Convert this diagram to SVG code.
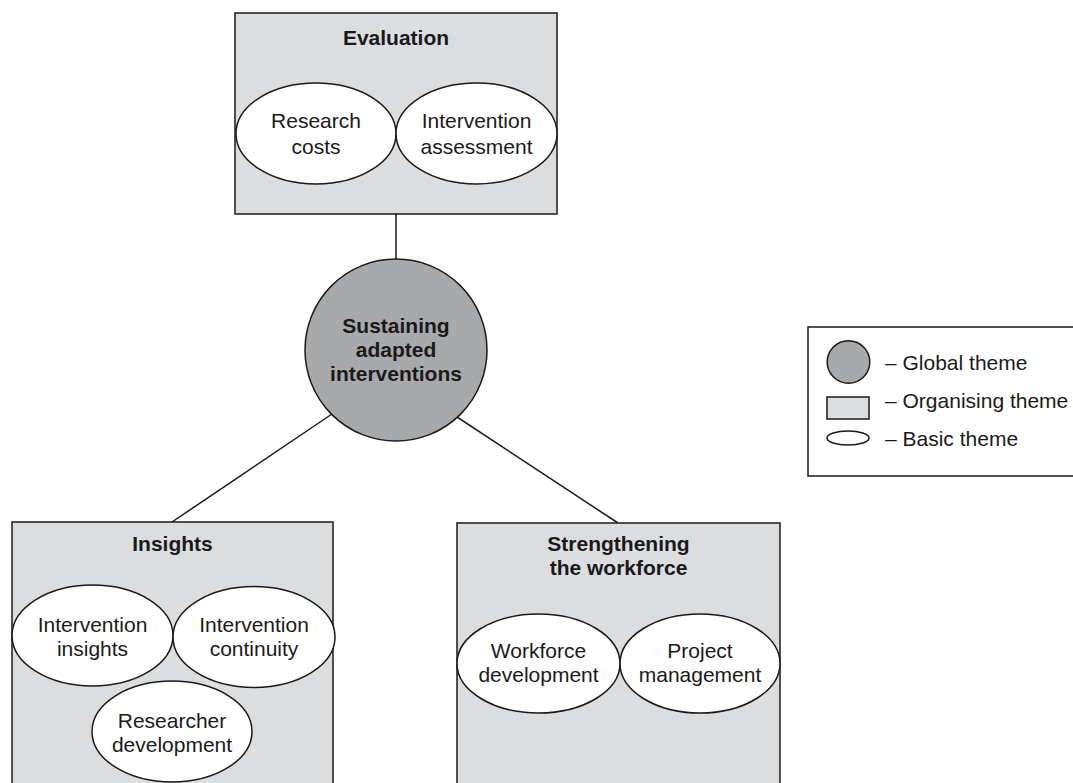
<svg xmlns="http://www.w3.org/2000/svg" width="1073" height="783" viewBox="0 0 1073 783">
<style>
.box{fill:#dcdddf;stroke:#1a1a1a;stroke-width:1.5}
.ell{fill:#ffffff;stroke:#1a1a1a;stroke-width:1.5}
.glob{fill:#a8a9ab;stroke:#1a1a1a;stroke-width:1.5}
.conn{stroke:#1a1a1a;stroke-width:1.5;fill:none}
text{font-family:"Liberation Sans",Arial,sans-serif;font-size:21px;fill:#1a1a1a}
.t{text-anchor:middle}
.b{font-weight:bold}
</style>
<rect width="1073" height="783" fill="#ffffff"/>
<g id="connectors">
<line class="conn" x1="396" y1="214" x2="396" y2="259"/>
<line class="conn" x1="332" y1="414" x2="172" y2="522"/>
<line class="conn" x1="457" y1="417" x2="618" y2="523"/>
</g>
<g id="evaluation">
<rect class="box" x="235" y="13" width="322" height="201"/>
<text class="t b" x="396" y="45">Evaluation</text>
</g>
<g id="research-costs">
<ellipse class="ell" cx="316" cy="133.5" rx="80" ry="50.5"/>
<text class="t" x="316" y="128">Research</text>
<text class="t" x="316" y="154">costs</text>
</g>
<g id="intervention-assessment">
<ellipse class="ell" cx="476.5" cy="133.5" rx="80.5" ry="50.5"/>
<text class="t" x="476.5" y="128">Intervention</text>
<text class="t" x="476.5" y="154">assessment</text>
</g>
<g id="sustaining">
<circle class="glob" cx="396" cy="350" r="91"/>
<text class="t b" x="396" y="333">Sustaining</text>
<text class="t b" x="396" y="357">adapted</text>
<text class="t b" x="396" y="381">interventions</text>
</g>
<g id="insights">
<rect class="box" x="12" y="522" width="321" height="280"/>
<text class="t b" x="172.5" y="551">Insights</text>
</g>
<g id="intervention-insights">
<ellipse class="ell" cx="92.5" cy="635.5" rx="80.5" ry="50.5"/>
<text class="t" x="92.5" y="632">Intervention</text>
<text class="t" x="92.5" y="656">insights</text>
</g>
<g id="intervention-continuity">
<ellipse class="ell" cx="254" cy="637" rx="81" ry="50.5"/>
<text class="t" x="254" y="632">Intervention</text>
<text class="t" x="254" y="656">continuity</text>
</g>
<g id="researcher-development">
<ellipse class="ell" cx="172" cy="731.5" rx="80" ry="50.5"/>
<text class="t" x="172" y="728">Researcher</text>
<text class="t" x="172" y="752">development</text>
</g>
<g id="strengthening">
<rect class="box" x="457" y="523" width="323" height="280"/>
<text class="t b" x="618.5" y="551">Strengthening</text>
<text class="t b" x="618.5" y="575">the workforce</text>
</g>
<g id="workforce-development">
<ellipse class="ell" cx="538.5" cy="663.5" rx="81.5" ry="49.5"/>
<text class="t" x="538.5" y="658">Workforce</text>
<text class="t" x="538.5" y="682">development</text>
</g>
<g id="project-management">
<ellipse class="ell" cx="700" cy="663.5" rx="80" ry="49.5"/>
<text class="t" x="700" y="658">Project</text>
<text class="t" x="700" y="682">management</text>
</g>
<g id="legend">
<rect x="808" y="327" width="280" height="149" fill="#ffffff" stroke="#1a1a1a" stroke-width="1.5"/>
<circle class="glob" cx="848.5" cy="362" r="21.3"/>
<rect class="box" x="827" y="397" width="42" height="22"/>
<ellipse class="ell" cx="848" cy="438" rx="21" ry="7"/>
<text x="885" y="370">– Global theme</text>
<text x="885" y="408">– Organising theme</text>
<text x="885" y="446">– Basic theme</text>
</g>
</svg>
